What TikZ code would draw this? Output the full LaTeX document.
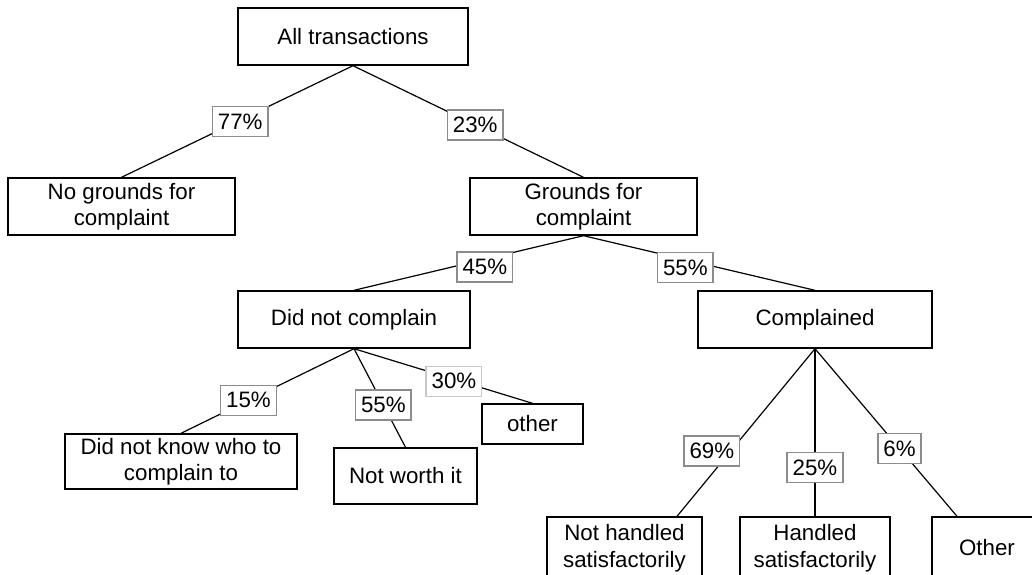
\documentclass[tikz,border=0pt]{standalone}
\usepackage{fontspec}
\setmainfont{Liberation Sans}
\usepackage{tikz}
\definecolor{pctgray}{RGB}{140,140,140}
\definecolor{pctlight}{RGB}{200,200,200}

\begin{document}
\begin{tikzpicture}[x=1pt,y=-1pt,
  box/.style={draw=black, line width=1.4pt, align=center, inner sep=0pt, minimum height=57pt, font=\fontsize{22.3}{26.5}\selectfont},
  pct/.style={draw=pctgray, line width=1.4pt, fill=white, inner xsep=5.5pt, inner ysep=0pt, minimum height=30pt, font=\fontsize{22.3}{26.5}\selectfont},
  link/.style={line width=1.2pt}]
\useasboundingbox (0,0) rectangle (1032,574);
\node[box, minimum width=230pt] (all) at (353,36.5) {All transactions};
\node[box, minimum width=227pt] (nogr) at (121.5,206.5) {No grounds for\\complaint};
\node[box, minimum width=227pt] (gr) at (583.5,206.5) {Grounds for\\complaint};
\node[box, minimum width=232pt] (didnot) at (354,319.5) {Did not complain};
\node[box, minimum width=234pt] (compl) at (815,319.5) {Complained};
\node[box, minimum width=232pt, minimum height=55pt] (dknow) at (181,461.5) {Did not know who to\\complain to};
\node[box, minimum width=143pt, minimum height=56pt] (worth) at (405.5,476) {Not worth it};
\node[box, minimum width=101pt, minimum height=40pt] (other) at (532.5,424) {other};
\node[box, minimum width=155pt, minimum height=62pt] (nothand) at (624.5,548) {Not handled\\satisfactorily};
\node[box, minimum width=150pt, minimum height=62pt] (hand) at (815,548) {Handled\\satisfactorily};
\node[box, minimum width=110pt, minimum height=62pt] (oth) at (987,548) {Other};
\draw[link] (all.south) -- node[pct,pos=0.5,xshift=3pt] {77\%} (nogr.north);
\draw[link] (all.south) -- node[pct,pos=0.53] {23\%} (gr.north);
\draw[link] (gr.south) -- node[pct,pos=0.43,yshift=-8pt] {45\%} (didnot.north);
\draw[link] (gr.south) -- node[pct,pos=0.44,yshift=-8pt] {55\%} (compl.north);
\draw[link] (didnot.south) -- node[pct,pos=0.61] {15\%} (dknow.north);
\draw[link] (didnot.south) -- node[pct,pos=0.57] {55\%} (worth.north);
\draw[link] (didnot.south) -- node[pct,draw=pctlight,pos=0.56,yshift=-2pt] {30\%} (other.north);
\draw[link] (compl.south) -- node[pct,pos=0.61,xshift=-19pt] {69\%} ([xshift=52.5pt]nothand.north);
\draw[link] (compl.south) -- node[pct,pos=0.71] {25\%} (hand.north);
\draw[link] (compl.south) -- node[pct,pos=0.595] {6\%} ([xshift=-30pt]oth.north);
\end{tikzpicture}
\end{document}
